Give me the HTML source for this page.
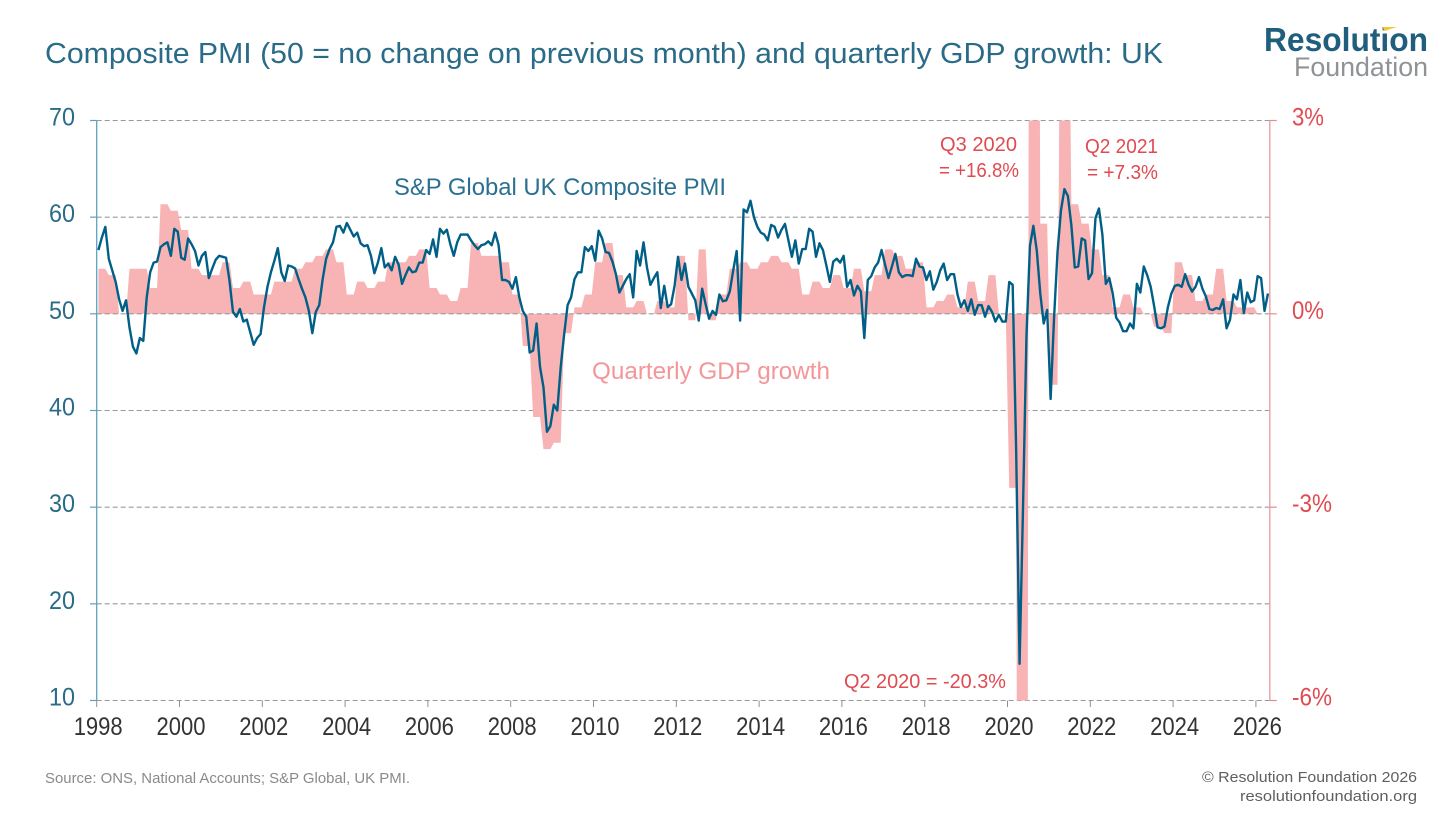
<!DOCTYPE html>
<html lang="en">
<head>
<meta charset="utf-8">
<title>Composite PMI and quarterly GDP growth: UK</title>
<style>
html,body{margin:0;padding:0;background:#fff;width:1456px;height:819px;overflow:hidden;}
svg{display:block;position:absolute;left:0;top:0;overflow:hidden;}
text{font-family:"Liberation Sans",sans-serif;}
</style>
</head>
<body>
<svg id="chart" xmlns="http://www.w3.org/2000/svg" width="1456" height="819" viewBox="0 0 1456 819">
  <rect x="0" y="0" width="1456" height="819" fill="#ffffff"/>
  <text x="45" y="63" font-size="29" fill="#2a6b87" textLength="1118" lengthAdjust="spacingAndGlyphs">Composite PMI (50 = no change on previous month) and quarterly GDP growth: UK</text>
  <g>
    <text x="1264" y="51" font-size="33" font-weight="700" fill="#1f5f7d" textLength="164" lengthAdjust="spacingAndGlyphs">Resolution</text>
    <text x="1294" y="76" font-size="27" fill="#8f9395" textLength="134" lengthAdjust="spacingAndGlyphs">Foundation</text>
    <polygon points="1383,27 1397,27 1384,31" fill="#f5c92e"/>
  </g>
  <g id="grid-layer"></g>
  <path id="gdp-area" fill="#f8b3b4" stroke="none"/>
  <g id="axis-layer"></g>
  <path id="pmi-line" fill="none" stroke="#005f87" stroke-width="2.4" stroke-linejoin="round" stroke-linecap="butt"/>
  <text x="394" y="195" font-size="24" fill="#2a7090" textLength="332" lengthAdjust="spacingAndGlyphs">S&amp;P Global UK Composite PMI</text>
  <text x="592" y="379" font-size="24" fill="#f49598" textLength="238" lengthAdjust="spacingAndGlyphs">Quarterly GDP growth</text>
  <text x="940" y="151" font-size="20.5" fill="#e04a51" textLength="77" lengthAdjust="spacingAndGlyphs">Q3 2020</text>
  <text x="939" y="177" font-size="20.5" fill="#e04a51" textLength="80" lengthAdjust="spacingAndGlyphs">= +16.8%</text>
  <text x="1085" y="153" font-size="20.5" fill="#e04a51" textLength="73" lengthAdjust="spacingAndGlyphs">Q2 2021</text>
  <text x="1087" y="179" font-size="20.5" fill="#e04a51" textLength="71" lengthAdjust="spacingAndGlyphs">= +7.3%</text>
  <text x="844" y="688" font-size="20.5" fill="#e04a51" textLength="162" lengthAdjust="spacingAndGlyphs">Q2 2020 = -20.3%</text>
  <text x="45" y="783" font-size="14.5" fill="#8a8a8a" textLength="365" lengthAdjust="spacingAndGlyphs">Source: ONS, National Accounts; S&amp;P Global, UK PMI.</text>
  <text x="1202" y="782" font-size="15" fill="#5f5f5f" textLength="215" lengthAdjust="spacingAndGlyphs">© Resolution Foundation 2026</text>
  <text x="1240" y="801" font-size="15" fill="#5f5f5f" textLength="177" lengthAdjust="spacingAndGlyphs">resolutionfoundation.org</text>
</svg>
<script>
var pmiTicks = [70, 60, 50, 40, 30, 20, 10];
var gdpTicks = [3, 0, -3, -6];
var gdpTickLabels = ['3%', '0%', '-3%', '-6%'];
var yearTicks = [1998, 2000, 2002, 2004, 2006, 2008, 2010, 2012, 2014, 2016, 2018, 2020, 2022, 2024, 2026];
var pmiValues = [
  56.6,57.9,59.0,55.7,54.5,53.3,51.5,50.3,51.4,48.6,46.6,45.9,
  47.5,47.2,51.7,54.3,55.3,55.4,56.9,57.2,57.4,56.0,58.8,58.5,
  55.8,55.6,57.8,57.2,56.5,55.0,56.0,56.4,53.7,54.7,55.6,56.0,
  55.9,55.8,53.4,50.2,49.7,50.5,49.2,49.4,48.1,46.8,47.5,47.9,
  50.7,52.8,54.3,55.5,56.8,54.3,53.4,55.0,54.9,54.7,53.6,52.6,
  51.7,50.3,48.0,50.2,50.9,53.6,55.7,56.7,57.4,59.0,59.1,58.4,
  59.4,58.7,58.0,58.4,57.3,57.0,57.1,56.0,54.2,55.3,56.8,54.8,
  55.2,54.5,55.9,55.1,53.1,54.0,54.8,54.3,54.4,55.3,55.3,56.6,
  56.2,57.7,55.9,58.8,58.3,58.7,57.2,56.0,57.4,58.2,58.2,58.2,
  57.6,57.1,56.7,57.1,57.2,57.5,57.1,58.4,57.1,53.5,53.5,53.3,
  52.6,53.8,51.7,50.3,49.7,46.0,46.2,49.0,44.5,42.4,37.8,38.4,
  40.6,40.0,44.5,47.9,50.9,51.7,53.6,54.3,54.3,56.9,56.5,57.0,
  55.5,58.6,57.8,56.4,56.3,55.4,54.1,52.2,52.9,53.6,54.1,51.7,
  56.5,55.0,57.4,54.8,53.0,53.7,54.3,50.6,52.9,50.7,51.0,52.9,
  55.9,53.5,55.2,52.8,52.1,51.4,49.3,52.6,51.0,49.5,50.3,49.9,
  52.0,51.3,51.4,52.3,54.5,56.5,49.3,60.8,60.5,61.7,60.0,59.0,
  58.4,58.2,57.6,59.2,59.0,57.9,58.7,59.3,57.6,55.9,57.6,55.2,
  56.7,56.7,58.8,58.5,55.9,57.3,56.6,55.0,53.3,55.4,55.7,55.3,
  56.0,52.8,53.5,51.9,52.9,52.3,47.5,53.5,53.9,54.8,55.3,56.6,
  55.1,53.7,54.9,56.2,54.3,53.8,54.0,54.0,53.9,55.7,54.9,54.8,
  53.5,54.4,52.5,53.3,54.5,55.2,53.5,54.1,54.1,52.0,50.7,51.4,
  50.3,51.5,49.9,50.9,50.9,49.7,50.8,50.2,49.2,49.9,49.2,49.2,
  53.3,53.0,36.0,13.8,30.0,47.7,57.0,59.1,56.5,52.1,49.0,50.4,
  41.2,49.6,56.4,60.7,62.9,62.2,59.2,54.8,54.9,57.8,57.6,53.6,
  54.2,59.9,60.9,58.2,53.1,53.7,52.1,49.6,49.1,48.2,48.2,49.0,
  48.5,53.1,52.2,54.9,54.0,52.8,50.8,48.6,48.5,48.7,50.7,52.1,
  52.9,53.0,52.8,54.1,53.0,52.3,52.8,53.8,52.6,51.8,50.5,50.4,
  50.6,50.5,51.5,48.5,49.4,52.0,51.5,53.5,50.1,52.2,51.2,51.4,
  53.9,53.7,50.3,52.1
];
var gdpValues = [
  0.7,0.6,0.0,0.7,
  0.7,0.4,1.7,1.6,
  1.3,0.7,0.6,0.6,
  0.8,0.4,0.5,0.3,
  0.3,0.5,0.5,0.7,
  0.8,0.9,1.0,0.8,
  0.3,0.5,0.4,0.5,
  0.8,0.8,0.9,1.0,
  0.4,0.3,0.2,0.4,
  1.1,0.9,0.9,0.8,
  0.3,-0.5,-1.6,-2.1,
  -2.0,-0.3,0.1,0.3,
  0.8,1.1,0.6,0.1,
  0.2,0.0,0.2,0.1,
  0.9,-0.1,1.0,-0.1,
  0.3,0.7,0.8,0.7,
  0.8,0.9,0.8,0.7,
  0.3,0.5,0.4,0.6,
  0.4,0.7,0.35,0.6,
  1.0,0.9,0.7,0.8,
  0.1,0.2,0.3,0.1,
  0.5,0.2,0.6,0.0,
  -2.7,-20.3,16.8,1.4,
  -1.1,7.3,1.7,1.4,
  1.0,0.6,0.1,0.3,
  0.1,0.0,-0.2,-0.3,
  0.8,0.6,0.2,0.3,
  0.7,0.2,0.1,0.1,
  0.0
];

var SVG_NS = 'http://www.w3.org/2000/svg';
var plotLeft = 96.7, plotRight = 1269.8, plotTop = 120.5, plotBottom = 700.5;
var monthWidth = 41.4 / 12;
var pmiMin = 10, pmiMax = 70, gdpMin = -6, gdpMax = 3;

function xMonth(i) { return plotLeft + (i + 0.5) * monthWidth; }
function xYear(year) { return plotLeft + (year - yearTicks[0]) * 12 * monthWidth; }
function yPmi(v) { return plotBottom - (v - pmiMin) / (pmiMax - pmiMin) * (plotBottom - plotTop); }
function yGdp(v) { return plotBottom - (v - gdpMin) / (gdpMax - gdpMin) * (plotBottom - plotTop); }

function svgEl(tag, attrs, parent, content) {
  var el = document.createElementNS(SVG_NS, tag);
  for (var k in attrs) { el.setAttribute(k, attrs[k]); }
  if (content !== undefined) { el.textContent = content; }
  parent.appendChild(el);
  return el;
}

// Trim a polyline to the plot's vertical range, keeping the true slope of off-scale segments.
function clipToPlot(points) {
  var out = [];
  points.forEach(function (p, idx) {
    if (idx > 0) {
      var a = points[idx - 1];
      var crossings = [];
      [plotTop, plotBottom].forEach(function (bound) {
        if ((a[1] - bound) * (p[1] - bound) < 0) {
          crossings.push((bound - a[1]) / (p[1] - a[1]));
        }
      });
      crossings.sort(function (m, n) { return m - n; });
      crossings.forEach(function (t) {
        out.push([a[0] + (p[0] - a[0]) * t, a[1] + (p[1] - a[1]) * t]);
      });
    }
    out.push(p);
  });
  return out.map(function (p) {
    return [p[0], Math.min(plotBottom, Math.max(plotTop, p[1]))];
  });
}

var gridLayer = document.getElementById('grid-layer');
var axisLayer = document.getElementById('axis-layer');

pmiTicks.forEach(function (t) {
  var grid = svgEl('line', {x1: plotLeft, x2: plotRight, y1: yPmi(t), y2: yPmi(t), stroke: '#9a9a9a', 'stroke-width': 1.1, 'stroke-dasharray': '5 3'}, t === 50 ? axisLayer : gridLayer);
  
  
  var tick = svgEl('line', {x1: 90, x2: plotLeft, y1: yPmi(t), y2: yPmi(t), stroke: '#5ba3bf', 'stroke-width': 1.2}, axisLayer);
  
  
  var label = svgEl('text', {x: 49, y: yPmi(t) + 5, 'font-size': 25, fill: '#2a6b87', textLength: 26, lengthAdjust: 'spacingAndGlyphs'}, axisLayer, String(t));
  
  
});

var leftAxis = svgEl('line', {x1: plotLeft, x2: plotLeft, y1: plotTop, y2: plotBottom, stroke: '#5ba3bf', 'stroke-width': 1.3}, axisLayer);



var rightAxis = svgEl('line', {x1: plotRight, x2: plotRight, y1: plotTop, y2: plotBottom, stroke: '#eba6aa', 'stroke-width': 1.5}, axisLayer);



gdpTicks.forEach(function (t, idx) {
  var tick = svgEl('line', {x1: plotRight, x2: plotRight + 7, y1: yGdp(t), y2: yGdp(t), stroke: '#e58b90', 'stroke-width': 1.2}, axisLayer);
  
  
  var txt = gdpTickLabels[idx];
  var label = svgEl('text', {x: 1292, y: yGdp(t) + 5, 'font-size': 25, fill: '#e04a51', textLength: txt.length === 2 ? 32 : 40, lengthAdjust: 'spacingAndGlyphs'}, axisLayer, txt);
  
  
});

yearTicks.forEach(function (year) {
  var tick = svgEl('line', {x1: xYear(year), x2: xYear(year), y1: plotBottom, y2: plotBottom + 6.5, stroke: '#8f8f8f', 'stroke-width': 1}, axisLayer);
  
  
  var label = svgEl('text', {x: xYear(year) + 1.5, y: plotBottom + 34.5, 'font-size': 25, fill: '#333333', 'text-anchor': 'middle', textLength: 49, lengthAdjust: 'spacingAndGlyphs'}, axisLayer, String(year));
  
  
});

var areaPoints = [[xMonth(0), yGdp(0)]];
gdpValues.forEach(function (v, q) {
  for (var m = 0; m < 3; m++) {
    var i = q * 3 + m;
    if (i < pmiValues.length) {
      areaPoints.push([xMonth(i), yGdp(v)]);
    }
  }
});
var lastIndex = Math.min(gdpValues.length * 3, pmiValues.length) - 1;
areaPoints.push([xMonth(lastIndex), yGdp(0)]);
var areaPath = clipToPlot(areaPoints).map(function (p, k) {
  return (k === 0 ? 'M' : 'L') + p[0].toFixed(2) + ' ' + p[1].toFixed(2);
}).join('') + 'Z';
document.getElementById('gdp-area').setAttribute('d', areaPath);

var linePoints = pmiValues.map(function (v, i) {
  return [xMonth(i), yPmi(v)];
});
var linePath = clipToPlot(linePoints).map(function (p, k) {
  return (k === 0 ? 'M' : 'L') + p[0].toFixed(2) + ' ' + p[1].toFixed(2);
}).join('');
document.getElementById('pmi-line').setAttribute('d', linePath);
</script>
</body>
</html>
